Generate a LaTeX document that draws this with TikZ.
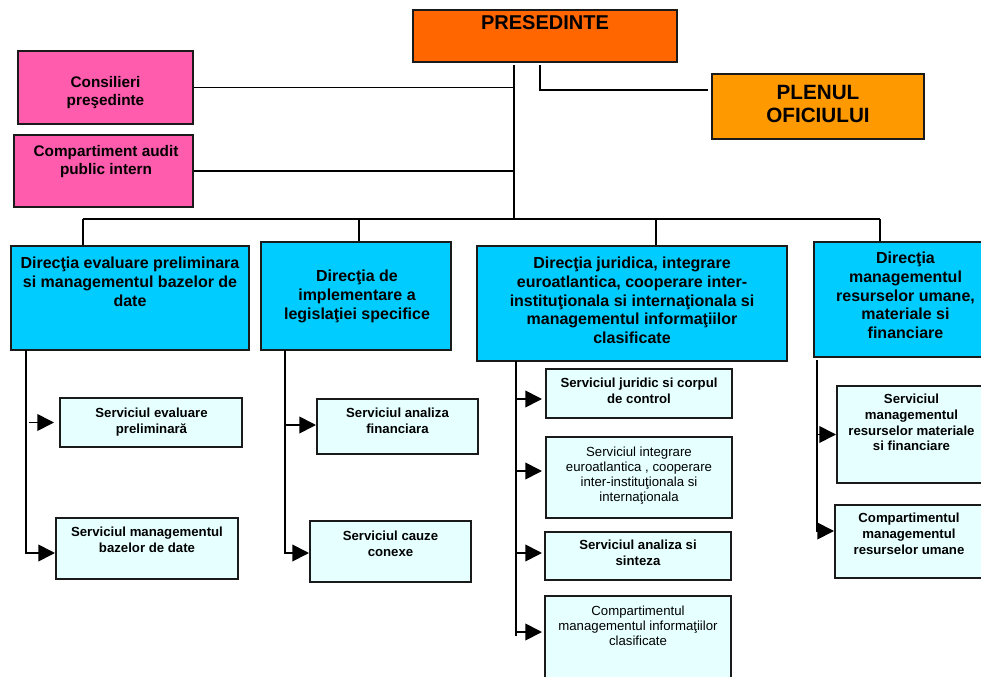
\documentclass[tikz,border=0pt]{standalone}
\usepackage{fontspec}
\setmainfont{Liberation Sans}
\usetikzlibrary{arrows.meta,calc}
\definecolor{cpres}{HTML}{FF6600}
\definecolor{cplen}{HTML}{FF9900}
\definecolor{cpink}{HTML}{FF5CAD}
\definecolor{cblue}{HTML}{00CCFF}
\definecolor{clight}{HTML}{E6FFFF}
\definecolor{cbord}{HTML}{1A1A1A}
\begin{document}
\begin{tikzpicture}[x=0.75pt,y=-0.75pt,
  bx/.style={draw=cbord, line width=1.5pt, inner sep=0pt},
  presbox/.style={bx, fill=cpres},
  plenbox/.style={bx, fill=cplen},
  pinkbox/.style={bx, fill=cpink},
  dirbox/.style={bx, fill=cblue},
  servbox/.style={bx, fill=clight},
  txt/.style={inner sep=0pt, anchor=north, align=center},
  tbig/.style={txt, font=\fontsize{15}{17.25}\selectfont\bfseries},
  tmid/.style={txt, font=\fontsize{11.5}{13.5}\selectfont\bfseries},
  tdir/.style={txt, font=\fontsize{12}{14}\selectfont\bfseries},
  tserv/.style={txt, font=\fontsize{9.9}{11.7}\selectfont\bfseries},
  tservr/.style={txt, font=\fontsize{9.9}{11.25}\selectfont},
  topline/.style={draw=black, line width=1.1pt},
  conn/.style={draw=black, line width=1.3pt},
  arr/.style={conn, -{Triangle[length=12.5pt,width=12.5pt]}}
]
\useasboundingbox (0,0) rectangle (981,677);
\clip (0,0) rectangle (981,677);

% top level boxes
\node[presbox, minimum width=198pt, minimum height=39pt] (pres) at (545,36) {};
\node[tbig] at (545,15) {PRESEDINTE};
\node[pinkbox, minimum width=131.25pt, minimum height=54.75pt] (cons) at (105.5,87.5) {};
\node[tmid] at (105.5,76) {Consilieri\\preşedinte};
\node[pinkbox, minimum width=134.25pt, minimum height=54pt] (audit) at (103.5,171) {};
\node[tmid] at (106,145) {Compartiment audit\\public intern};
\node[plenbox, minimum width=159pt, minimum height=48.75pt] (plen) at (818,106.5) {};
\node[tbig, font=\fontsize{15.5}{17.25}\selectfont\bfseries] at (818,85) {PLENUL\\OFICIULUI};

% directions
\node[dirbox, minimum width=178.5pt, minimum height=78pt] (b1) at (130,298) {};
\node[tdir] at (130,257) {Direcţia evaluare preliminara\\si managementul bazelor de\\date};
\node[dirbox, minimum width=142.5pt, minimum height=81pt] (b2) at (356,296) {};
\node[tdir] at (357,270) {Direcţia de\\implementare a\\legislaţiei specifice};
\node[dirbox, minimum width=232.5pt, minimum height=86.25pt] (b3) at (632,303.5) {};
\node[tdir] at (632,257) {Direcţia juridica, integrare\\euroatlantica, cooperare inter-\\instituţionala si internaţionala si\\managementul informaţiilor\\clasificate};
\node[dirbox, minimum width=137.25pt, minimum height=86.25pt] (b4) at (905.5,299.5) {};
\node[tdir] at (905.5,252) {Direcţia\\managementul\\resurselor umane,\\materiale si\\financiare};

% services
\node[servbox, minimum width=136.5pt, minimum height=36.75pt] (s1a) at (151,422.5) {};
\node[tserv] at (151.5,408) {Serviciul evaluare\\preliminară};
\node[servbox, minimum width=136.5pt, minimum height=45.75pt] (s1b) at (147,548.5) {};
\node[tserv] at (147,527) {Serviciul managementul\\bazelor de date};
\node[servbox, minimum width=120.75pt, minimum height=41.25pt] (s2a) at (397.5,426.5) {};
\node[tserv] at (397.5,408) {Serviciul analiza\\financiara};
\node[servbox, minimum width=120.75pt, minimum height=45.75pt] (s2b) at (390.5,551.5) {};
\node[tserv] at (390.5,531) {Serviciul cauze\\conexe};
\node[servbox, minimum width=139.5pt, minimum height=36.75pt] (s3a) at (639,393.5) {};
\node[tserv] at (639,378) {Serviciul juridic si corpul\\de control};
\node[servbox, minimum width=139.5pt, minimum height=60.75pt] (s3b) at (639,477.5) {};
\node[tservr] at (639,447) {Serviciul integrare\\euroatlantica , cooperare\\inter-instituţionala si\\internaţionala};
\node[servbox, minimum width=139.5pt, minimum height=36pt] (s3c) at (638,556) {};
\node[tserv] at (638,540) {Serviciul analiza si\\sinteza};
\node[servbox, minimum width=139.5pt, minimum height=70.5pt] (s3d) at (638,643) {};
\node[tservr] at (638,606) {Compartimentul\\managementul informaţiilor\\clasificate};
\node[servbox, minimum width=111.75pt, minimum height=72.75pt] (s4a) at (911.5,434.5) {};
\node[tserv] at (911.5,394) {Serviciul\\managementul\\resurselor materiale\\si financiare};
\node[servbox, minimum width=111pt, minimum height=54.75pt] (s4b) at (909,541.5) {};
\node[tserv] at (909,513) {Compartimentul\\managementul\\resurselor umane};

% top connectors
\coordinate (tr) at (514,65);
\coordinate (bus) at (514,219);
\draw[topline] (tr) -- (bus);
\draw[topline] (cons.east) -- (cons.east -| tr);
\draw[topline] (audit.east) -- (audit.east -| tr);
\coordinate (pl1) at (540,65);
\draw[topline] (pl1) |- ($(plen.west)+(-3,-16.5)$);
\coordinate (d1) at (83,219);
\coordinate (d2) at (359,219);
\coordinate (d3) at (656,219);
\coordinate (d4) at (880,219);
\draw[topline] (d1) -- (d4);
\draw[topline] (d1) -- (d1 |- b1.north);
\draw[topline] (d2) -- (d2 |- b2.north);
\draw[topline] (d3) -- (d3 |- b3.north);
\draw[topline] (d4) -- (d4 |- b4.north);

% branch 1
\coordinate (t1) at (26,350);
\draw[arr] (t1) |- ($(s1b.west)+(0,4.5)$);
\draw[arr] ($(t1 |- s1a.west)+(3,0)$) -- ($(s1a.west)+(-5,0)$);
% branch 2
\coordinate (t2) at (285,350);
\draw[arr] (t2) |- ($(s2b.west)+(0,1.5)$);
\draw[arr] ($(t2 |- s2a.west)+(0,-1.5)$) -- ($(s2a.west)+(0,-1.5)$);
% branch 3
\coordinate (t3) at (516,361);
\coordinate (t3e) at (516,636);
\draw[conn] (t3) -- (t3e);
\draw[arr] ($(t3 |- s3a.west)+(0,5.5)$) -- ($(s3a.west)+(-3,5.5)$);
\draw[arr] ($(t3 |- s3b.west)+(0,-6.5)$) -- ($(s3b.west)+(-3,-6.5)$);
\draw[arr] ($(t3 |- s3c.west)+(0,-3)$) -- ($(s3c.west)+(-2,-3)$);
\draw[arr] ($(t3 |- s3d.west)+(0,-11)$) -- ($(s3d.west)+(-2,-11)$);
% branch 4
\coordinate (t4) at (817,360);
\draw[arr] (t4) |- ($(s4b.west)+(0,-10.5)$);
\draw[arr] (t4 |- s4a.west) -- (s4a.west);
\end{tikzpicture}
\end{document}
